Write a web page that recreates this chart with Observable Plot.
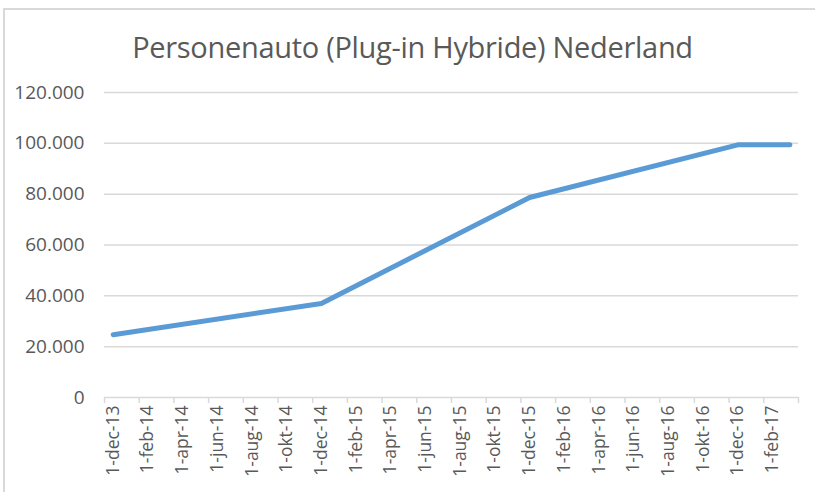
<!DOCTYPE html>
<html>
<head>
<meta charset="utf-8">
<script src="https://cdn.jsdelivr.net/npm/d3@7"></script>
<script src="https://cdn.jsdelivr.net/npm/@observablehq/plot@0.6"></script>
<style>
  html, body { margin: 0; padding: 0; background: #fff; }
  #wrap { position: relative; width: 815px; height: 492px; overflow: hidden; font-family: "Open Sans", sans-serif; }
  #frame { position: absolute; left: 3px; top: 8px; width: 900px; height: 600px; border-top: 2px solid #d9d9d9; border-left: 2px solid #d9d9d9; box-sizing: border-box; }
  #title { position: absolute; left: 0; top: 27px; width: 825px; text-align: center; font-size: 29px; color: #595959; letter-spacing: -0.3px; white-space: nowrap; }
  #chart { position: absolute; left: 0; top: 70px; }
</style>
</head>
<body>
<div id="wrap">
  <div id="frame"></div>
  <div id="title">Personenauto (Plug-in Hybride) Nederland</div>
  <div id="chart"></div>
</div>
<script>
// Data
const months = ["2013-12", "2014-12", "2015-12", "2016-12", "2017-03"];
const values = [24700, 37000, 78700, 99400, 99400];
const tickLabels = ["1-dec-13","1-feb-14","1-apr-14","1-jun-14","1-aug-14","1-okt-14","1-dec-14",
  "1-feb-15","1-apr-15","1-jun-15","1-aug-15","1-okt-15","1-dec-15",
  "1-feb-16","1-apr-16","1-jun-16","1-aug-16","1-okt-16","1-dec-16","1-feb-17"];
const yTicks = [0, 20000, 40000, 60000, 80000, 100000, 120000];

const monthIndex = s => { const [y, m] = s.split("-").map(Number); return (y - 2013) * 12 + (m - 12); };
const data = months.map((m, i) => ({ x: monthIndex(m) + 0.5, y: values[i] }));
const nMonths = 40;
const labelPos = tickLabels.map((_, i) => i * 2 + 0.5);
const boundaries = d3.range(0, nMonths + 1, 2);
const fmt = d => d3.format(",")(d).replace(/,/g, ".");

const chart = Plot.plot({
  width: 815,
  height: 422,
  marginLeft: 104,
  marginRight: 17,
  marginTop: 22,
  marginBottom: 95,
  style: { fontFamily: "Open Sans, sans-serif", fontSize: "17px", color: "#595959", background: "transparent" },
  x: { domain: [0, nMonths], axis: null, label: null },
  y: { domain: [0, 120000], axis: null, label: null },
  marks: [
    Plot.ruleY(yTicks, { stroke: "#d9d9d9", strokeWidth: 1.5 }),
    Plot.axisY(yTicks, { tickSize: 0, tickPadding: 20, tickFormat: fmt, fill: "#595959", fontSize: 19, label: null }),
    Plot.axisX(boundaries, { tickSize: 6, tickFormat: () => "", stroke: "#d9d9d9", strokeWidth: 1.5, tickPadding: 0, label: null }),
    Plot.axisX(labelPos, { tickSize: 0, tickPadding: 8, tickRotate: -90, tickFormat: (d, i) => tickLabels[i], fill: "#595959", fontSize: 17.5, label: null }),
    Plot.line(data, { x: "x", y: "y", stroke: "#5b9bd5", strokeWidth: 5, strokeLinecap: "round", strokeLinejoin: "round" })
  ]
});
document.getElementById("chart").appendChild(chart);
</script>
</body>
</html>
